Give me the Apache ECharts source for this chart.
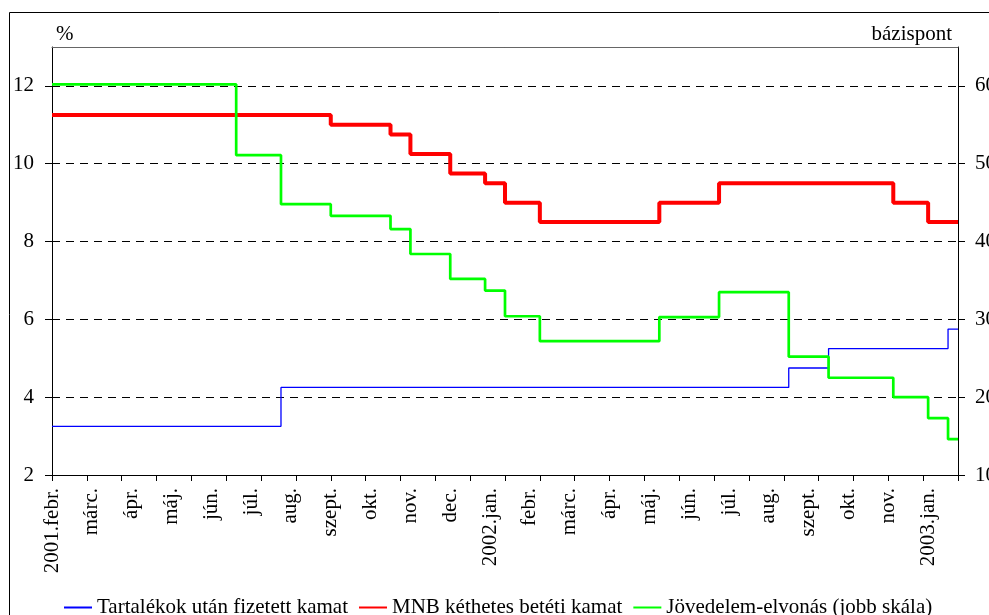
<!DOCTYPE html>
<html>
<head>
<meta charset="utf-8">
<script src="https://cdn.jsdelivr.net/npm/echarts@6/dist/echarts.min.js"></script>
<style>
  html, body { margin: 0; padding: 0; background: #fff; }
  #main { width: 989px; height: 615px; }
</style>
</head>
<body>
<div id="main"></div>
<script>
// month labels, one every 8 steps of the x scale; ticks every 7 steps
var monthLabels = ['2001.febr.', 'márc.', 'ápr.', 'máj.', 'jún.', 'júl.', 'aug.', 'szept.', 'okt.', 'nov.', 'dec.',
    '2002.jan.', 'febr.', 'márc.', 'ápr.', 'máj.', 'jún.', 'júl.', 'aug.', 'szept.', 'okt.', 'nov.', '2003.jan.'];
var steps = 182;

// [x step, value] at each change of rate
var tartalek = [[0, 3.25], [46, 4.25], [148, 4.75], [156, 5.25], [180, 5.75], [182, 5.75]];
var mnb = [[0, 11.25], [56, 11.0], [68, 10.75], [72, 10.25], [80, 9.75], [87, 9.5], [91, 9.0], [98, 8.5],
    [122, 9.0], [134, 9.5], [169, 9.0], [176, 8.5], [182, 8.5]];
var jovedelem = [[0, 60.2], [37, 51.1], [46, 44.8], [56, 43.3], [68, 41.6], [72, 38.4], [80, 35.2], [87, 33.7],
    [91, 30.4], [98, 27.2], [122, 30.3], [134, 33.5], [148, 25.2], [156, 22.5], [169, 20.0], [176, 17.3],
    [180, 14.6], [182, 14.6]];

var categories = [];
for (var i = 0; i <= steps; i++) {
    categories.push(i % 8 === 0 ? monthLabels[i / 8] : '');
}

var font = 'Liberation Serif';
var chart = echarts.init(document.getElementById('main'));
chart.setOption({
    animation: false,
    textStyle: { fontFamily: font, color: '#000' },
    graphic: [{
        type: 'rect',
        shape: { x: 9.5, y: 12.5, width: 1100, height: 700 },
        style: { fill: 'none', stroke: '#000', lineWidth: 1 }
    }],
    grid: {
        left: 52, right: 31, top: 47, bottom: 140,
        outerBoundsMode: 'none',
        containLabel: false,
        show: false
    },
    legend: {
        left: 58, top: 592,
        itemWidth: 28, itemHeight: 14, itemGap: 10,
        itemStyle: { opacity: 0 },
        textStyle: { fontFamily: font, fontSize: 21, color: '#000' }
    },
    xAxis: [{
        type: 'category',
        data: categories,
        boundaryGap: false,
        axisLine: { lineStyle: { color: '#000', width: 1 } },
        axisTick: { interval: 6, length: 6, lineStyle: { color: '#000' } },
        axisLabel: {
            interval: 7, rotate: 90, margin: 13, hideOverlap: false,
            fontFamily: font, fontSize: 21, color: '#000'
        },
        splitLine: { show: false }
    }, {
        // top border of the plot area
        type: 'category',
        data: categories,
        position: 'top',
        boundaryGap: false,
        z: 5,
        axisLine: { show: true, lineStyle: { color: '#666', width: 1 } },
        axisTick: { show: false },
        axisLabel: { show: false },
        splitLine: { show: false }
    }],
    yAxis: [{
        type: 'value',
        min: 2, max: 13, interval: 2,
        name: '%',
        nameLocation: 'end',
        nameGap: 2,
        nameTextStyle: { fontFamily: font, fontSize: 21, color: '#000', align: 'left', padding: [0, 0, 0, 4] },
        axisLine: { show: true, lineStyle: { color: '#000' } },
        axisTick: { show: true, length: 7, lineStyle: { color: '#000' } },
        axisLabel: { margin: 18, showMaxLabel: false, fontFamily: font, fontSize: 21, color: '#000' },
        splitLine: { show: true, lineStyle: { color: '#000', type: [8, 6], width: 1 } }
    }, {
        type: 'value',
        min: 10, max: 65, interval: 10,
        name: 'bázispont',
        nameLocation: 'end',
        nameGap: 2,
        nameTextStyle: { fontFamily: font, fontSize: 21, color: '#000', align: 'right', padding: [0, 6, 0, 0] },
        axisLine: { show: true, lineStyle: { color: '#000' } },
        axisTick: { show: true, length: 7, lineStyle: { color: '#000' } },
        axisLabel: { margin: 17, showMaxLabel: false, fontFamily: font, fontSize: 21, color: '#000' },
        splitLine: { show: false }
    }],
    series: [{
        name: 'Tartalékok után fizetett kamat',
        type: 'line', step: 'end', symbol: 'none',
        yAxisIndex: 0,
        lineStyle: { color: '#0000FF', width: 1.3 },
        itemStyle: { color: '#0000FF' },
        data: tartalek
    }, {
        name: 'MNB kéthetes betéti kamat',
        type: 'line', step: 'end', symbol: 'none',
        yAxisIndex: 0,
        lineStyle: { color: '#FF0000', width: 4 },
        itemStyle: { color: '#FF0000' },
        data: mnb
    }, {
        name: 'Jövedelem-elvonás (jobb skála)',
        type: 'line', step: 'end', symbol: 'none',
        yAxisIndex: 1,
        lineStyle: { color: '#00FF00', width: 2.7 },
        itemStyle: { color: '#00FF00' },
        data: jovedelem
    }]
});
</script>
</body>
</html>
